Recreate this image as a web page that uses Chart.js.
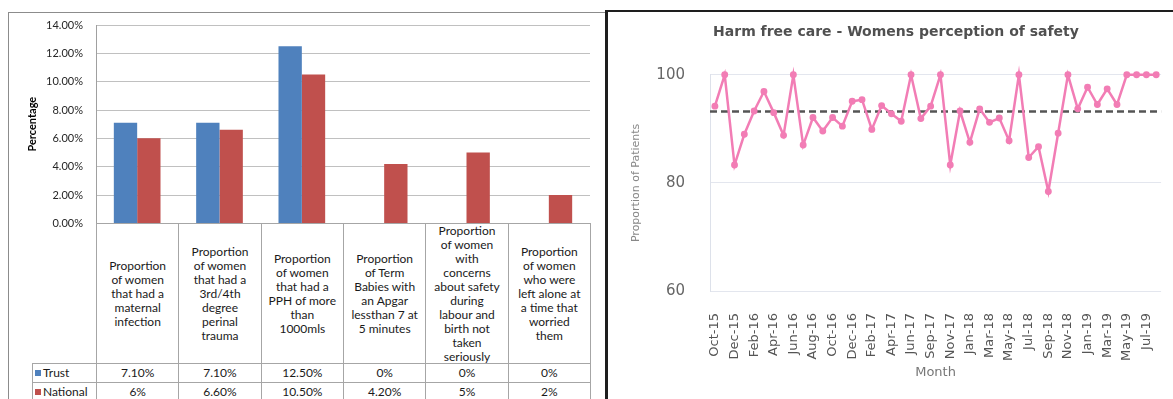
<!DOCTYPE html>
<html lang="en">
  <head>
    <meta charset="UTF-8" />
    <meta name="viewport" content="width=device-width, initial-scale=1.0" />
    <title>Maternity safety indicators</title>
    <script src="https://cdn.jsdelivr.net/npm/chart.js"></script>
    <style>
      html,
      body {
        margin: 0;
        padding: 0;
        background: #ffffff;
        width: 1173px;
        height: 399px;
        overflow: hidden;
      }
      #leftPanel {
        position: absolute;
        left: 8px;
        top: 12px;
        width: 600px;
        height: 420px;
        border: 1px solid #8c8c8c;
        box-sizing: border-box;
      }
      #barWrap {
        position: absolute;
        left: 0;
        top: 0;
        width: 600px;
        height: 243px;
      }
      #tableBox {
        position: absolute;
        left: 0;
        top: 0;
        font-family: Lato, "Liberation Sans", sans-serif;
        font-size: 12px;
        color: #1a1a1a;
      }
      .cell {
        position: absolute;
        box-sizing: border-box;
        border: 1px solid #a6a6a6;
        display: flex;
        align-items: center;
        justify-content: center;
        text-align: center;
        line-height: 14px;
        background: #ffffff;
      }
      .cell.key {
        justify-content: flex-start;
        padding-left: 2px;
      }
      .swatch {
        display: inline-block;
        width: 6px;
        height: 6px;
        margin-right: 2px;
      }
      #rightPanel {
        position: absolute;
        left: 605px;
        top: 10px;
        width: 600px;
        height: 420px;
        border-left: 3px solid #1e1e1e;
        border-top: 2px solid #1e1e1e;
        background: #ffffff;
      }
      #lineWrap {
        position: absolute;
        left: 608px;
        top: 12px;
        width: 578px;
        height: 387px;
      }
    </style>
  </head>
  <body>
    <div id="leftPanel"></div>
    <div id="barWrap"><canvas id="barChart"></canvas></div>
    <div id="tableBox"></div>
    <div id="rightPanel"></div>
    <div id="lineWrap"><canvas id="lineChart"></canvas></div>

    <script>
      // left chart: Trust vs National (values in %)
      const categories = [
        ["Proportion", "of women", "that had a", "maternal", "infection"],
        ["Proportion", "of women", "that had a", "3rd/4th", "degree", "perinal", "trauma"],
        ["Proportion", "of women", "that had a", "PPH of more", "than", "1000mls"],
        ["Proportion", "of Term", "Babies with", "an Apgar", "lessthan 7 at", "5 minutes"],
        ["Proportion", "of women", "with", "concerns", "about safety", "during", "labour and", "birth not", "taken", "seriously"],
        ["Proportion", "of women", "who were", "left alone at", "a time that", "worried", "them"],
      ];
      const trust = [7.1, 7.1, 12.5, 0, 0, 0];
      const national = [6, 6.6, 10.5, 4.2, 5, 2];

      // right chart: womens perception of safety
      const months = [
        "Oct-15", "Nov-15", "Dec-15", "Jan-16", "Feb-16", "Mar-16", "Apr-16", "May-16",
        "Jun-16", "Jul-16", "Aug-16", "Sep-16", "Oct-16", "Nov-16", "Dec-16", "Jan-17",
        "Feb-17", "Mar-17", "Apr-17", "May-17", "Jun-17", "Aug-17", "Sep-17", "Oct-17",
        "Nov-17", "Dec-17", "Jan-18", "Feb-18", "Mar-18", "Apr-18", "May-18", "Jun-18",
        "Jul-18", "Aug-18", "Sep-18", "Oct-18", "Nov-18", "Dec-18", "Jan-19", "Feb-19",
        "Mar-19", "Apr-19", "May-19", "Jun-19", "Jul-19", "Aug-19",
      ];
      const safety = [
        94.2, 100, 83.3, 89.0, 93.3, 96.9, 93.0, 88.8, 100, 87.0, 92.1, 89.6, 92.1, 90.5,
        95.1, 95.4, 89.9, 94.3, 92.8, 91.4, 100, 91.9, 94.2, 100, 83.3, 93.3, 87.5, 93.7,
        91.2, 92.0, 87.8, 100, 84.7, 86.7, 78.4, 89.2, 100, 93.7, 97.7, 94.5, 97.4, 94.5,
        100, 100, 100, 100,
      ];
      const safetyMean = 93.2;

      const trustColor = "#4f81bd";
      const nationalColor = "#c0504d";
      const pink = "#f27db5";

      function fmtPct(v) {
        return (Number.isInteger(v) ? v : v.toFixed(2)) + "%";
      }

      const barChart = new Chart(document.getElementById("barChart"), {
        type: "bar",
        data: {
          labels: categories,
          datasets: [
            { label: "Trust", data: trust, backgroundColor: trustColor, borderWidth: 0 },
            { label: "National", data: national, backgroundColor: nationalColor, borderWidth: 0 },
          ],
        },
        options: {
          responsive: true,
          maintainAspectRatio: false,
          animation: false,
          categoryPercentage: 0.567,
          barPercentage: 1,
          layout: { padding: { top: 25, right: 10, bottom: 7, left: 0 } },
          plugins: { legend: { display: false }, tooltip: { enabled: false } },
          scales: {
            x: { display: false },
            y: {
              min: 0,
              max: 14,
              ticks: {
                stepSize: 2,
                padding: 13,
                color: "#262626",
                font: { family: "Lato", size: 11 },
                callback: (v) => v.toFixed(2) + "%",
              },
              grid: { color: "#c0c0c0", drawTicks: false },
              border: { display: true, color: "#a0a0a0" },
              title: {
                display: true,
                text: "Percentage",
                color: "#000",
                font: { family: "Lato", size: 11, weight: "bold" },
                padding: { top: 26 },
              },
              afterFit: (s) => {
                s.width = 96;
              },
            },
          },
        },
      });

      // data table under the bars, lined up with the category scale
      (function buildTable() {
        const box = document.getElementById("tableBox");
        const ca = barChart.chartArea;
        const colW = (ca.right - ca.left) / categories.length;
        const headTop = ca.bottom;
        const headH = 141;
        const rowH = [19, 19];
        const keyLeft = 32;

        function cell(x, y, w, h, html, cls) {
          const d = document.createElement("div");
          d.className = "cell" + (cls ? " " + cls : "");
          d.style.left = x + "px";
          d.style.top = y + "px";
          d.style.width = w + "px";
          d.style.height = h + "px";
          d.innerHTML = html;
          box.appendChild(d);
        }

        categories.forEach((lines, i) => {
          cell(ca.left + i * colW, headTop, colW + 1, headH, lines.join("<br>"));
        });

        const rows = [
          { name: "Trust", color: trustColor, values: trust },
          { name: "National", color: nationalColor, values: national },
        ];
        let y = headTop + headH - 1;
        rows.forEach((r, ri) => {
          cell(keyLeft, y, ca.left - keyLeft + 1, rowH[ri] + 1,
            '<span class="swatch" style="background:' + r.color + '"></span>' + r.name, "key");
          r.values.forEach((v, i) => {
            cell(ca.left + i * colW, y, colW + 1, rowH[ri] + 1, fmtPct(v));
          });
          y += rowH[ri];
        });
      })();

      const meanLine = {
        id: "meanLine",
        beforeDatasetsDraw(chart) {
          const { ctx, chartArea } = chart;
          const yPix = chart.scales.y.getPixelForValue(safetyMean);
          ctx.save();
          ctx.strokeStyle = "#555555";
          ctx.lineWidth = 2.5;
          ctx.setLineDash([7, 4]);
          ctx.beginPath();
          ctx.moveTo(chartArea.left, yPix);
          ctx.lineTo(chartArea.right, yPix);
          ctx.stroke();
          ctx.restore();
        },
      };

      new Chart(document.getElementById("lineChart"), {
        type: "line",
        data: {
          labels: months,
          datasets: [
            {
              label: "Womens perception of safety",
              data: safety,
              borderColor: pink,
              backgroundColor: pink,
              borderWidth: 2.5,
              pointRadius: 2.2,
              pointHoverRadius: 2.2,
              tension: 0,
              clip: false,
            },
          ],
        },
        options: {
          responsive: true,
          maintainAspectRatio: false,
          animation: false,
          layout: { padding: { left: 16, right: 18, top: 0, bottom: 0 } },
          plugins: {
            legend: { display: false },
            tooltip: { enabled: false },
            title: {
              display: true,
              text: "Harm free care - Womens perception of safety",
              color: "#505050",
              font: { family: "DejaVu Sans", size: 14, weight: "bold" },
              padding: { top: 12, bottom: 34 },
            },
          },
          scales: {
            x: {
              offset: true,
              grid: { display: false },
              border: { display: false },
              ticks: {
                autoSkip: false,
                maxRotation: 90,
                minRotation: 90,
                padding: 14,
                color: "#555",
                font: { family: "DejaVu Sans", size: 13 },
                callback: (v, i) => (i % 2 === 0 ? months[i] : ""),
              },
              title: {
                display: true,
                text: "Month",
                color: "#777",
                font: { family: "DejaVu Sans", size: 13 },
                padding: { top: 4, bottom: 19 },
              },
              afterFit: (s) => {
                s.height = 108;
              },
            },
            y: {
              min: 60,
              max: 100,
              ticks: {
                stepSize: 20,
                padding: 25,
                color: "#666",
                font: { family: "DejaVu Sans", size: 15 },
              },
              grid: { color: "#e3e6ee", drawTicks: false },
              border: { display: true, color: "#dde1ea" },
              title: {
                display: true,
                text: "Proportion of Patients",
                color: "#888",
                font: { family: "DejaVu Sans", size: 11 },
                padding: { top: 6 },
              },
              afterFit: (s) => {
                s.width = 86;
              },
            },
          },
        },
        plugins: [meanLine],
      });
    </script>
  </body>
</html>
